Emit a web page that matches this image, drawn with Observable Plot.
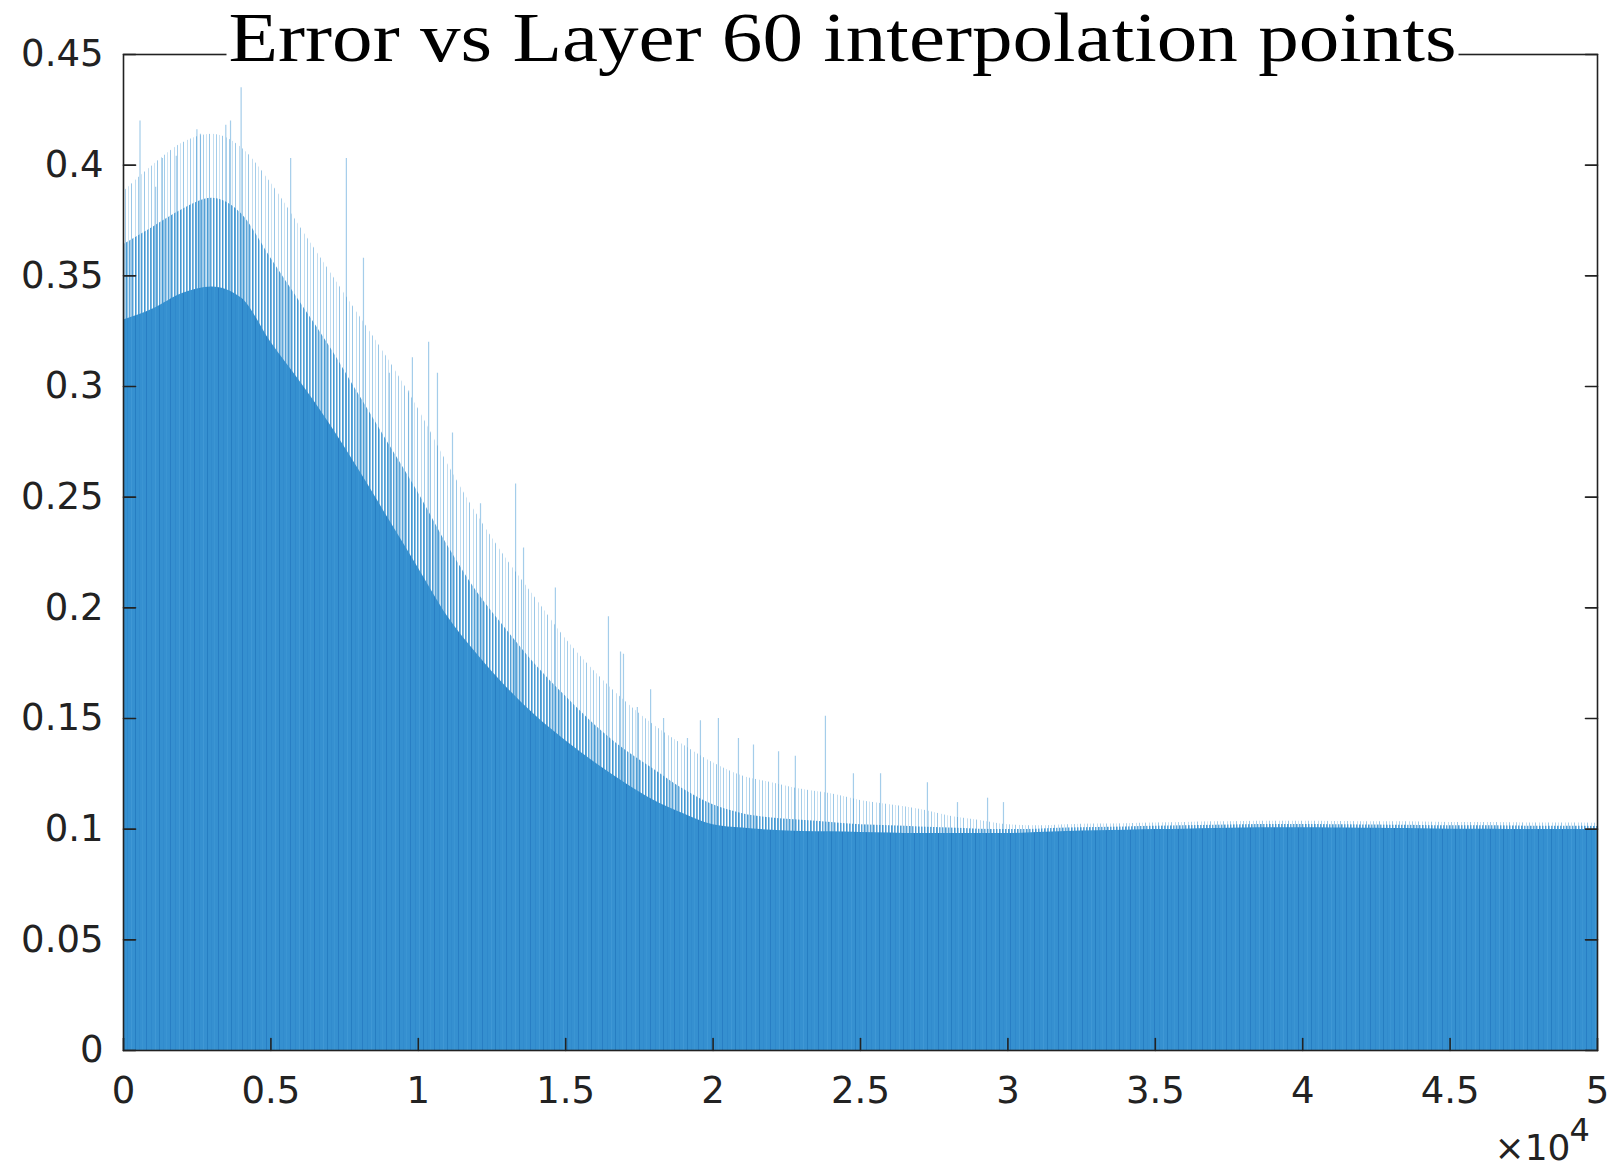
<!DOCTYPE html>
<html>
<head>
<meta charset="utf-8">
<script src="https://cdn.jsdelivr.net/npm/d3@7"></script>
<script src="https://cdn.jsdelivr.net/npm/@observablehq/plot@0.6"></script>
<style>
  html, body { margin: 0; padding: 0; background: #fff; }
</style>
</head>
<body>
<script>
// Layer index (sampled every 1000 of the 50000 layers)
const layers = [
  0, 1000, 2000, 3000, 4000, 5000, 6000, 7000, 8000, 9000,
  10000, 11000, 12000, 13000, 14000, 15000, 16000, 17000, 18000, 19000,
  20000, 21000, 22000, 23000, 24000, 25000, 26000, 27000, 28000, 29000,
  30000, 31000, 32000, 33000, 34000, 35000, 36000, 37000, 38000, 39000,
  40000, 41000, 42000, 43000, 44000, 45000, 46000, 47000, 48000, 49000, 50000
];

// Level reached by (nearly) every bar around each sampled layer
const errFloor = [
  0.330, 0.335, 0.342, 0.345, 0.340, 0.320, 0.302, 0.283, 0.262, 0.240,
  0.218, 0.196, 0.179, 0.164, 0.151, 0.140, 0.130, 0.121, 0.113, 0.107,
  0.102, 0.1005, 0.0995, 0.099, 0.0988, 0.0985, 0.0983, 0.098, 0.098, 0.098,
  0.098, 0.0985, 0.099, 0.0993, 0.0995, 0.0998, 0.1, 0.1003, 0.1005, 0.1006,
  0.1006, 0.1005, 0.1004, 0.1003, 0.1002, 0.1, 0.1, 0.0999, 0.0998, 0.0998, 0.0997
];

// Level reached by a dense share of the bars
const errDense = [
  0.364, 0.372, 0.380, 0.385, 0.378, 0.358, 0.338, 0.318, 0.296, 0.274,
  0.252, 0.228, 0.207, 0.190, 0.174, 0.160, 0.147, 0.136, 0.127, 0.118,
  0.111, 0.107, 0.105, 0.104, 0.103, 0.102, 0.1015, 0.101, 0.1005, 0.100,
  0.0998, 0.1, 0.1005, 0.1008, 0.101, 0.1013, 0.1015, 0.1018, 0.102, 0.1021,
  0.1021, 0.102, 0.1019, 0.1018, 0.1017, 0.1015, 0.1015, 0.1014, 0.1013, 0.1013, 0.1012
];

// Level reached by the sparse tallest bars
const errSparse = [
  0.388, 0.400, 0.410, 0.414, 0.408, 0.392, 0.372, 0.352, 0.332, 0.312,
  0.290, 0.265, 0.242, 0.222, 0.204, 0.186, 0.171, 0.158, 0.147, 0.138,
  0.130, 0.124, 0.121, 0.118, 0.116, 0.113, 0.111, 0.109, 0.106, 0.104,
  0.102, 0.1015, 0.102, 0.1023, 0.1025, 0.1028, 0.103, 0.1033, 0.1035, 0.1036,
  0.1036, 0.1035, 0.1034, 0.1033, 0.1032, 0.103, 0.103, 0.1029, 0.1028, 0.1028, 0.1027
];

// Individual tall bars standing out above the mass
const spikeLayer = [
  560, 1090, 1320, 1790, 2490, 2610, 3470, 3630, 3990, 5670,
  7560, 8140, 9020, 9670, 9800, 10350, 10650, 11160, 12110, 13300,
  13570, 14650, 16450, 16860, 16960, 17430, 17880, 18320, 19130, 19570,
  20180, 20860, 21370, 22220, 22790, 23810, 24760, 25680, 27270, 28290,
  29310, 29850
];
const spikeErr = [
  0.420, 0.390, 0.403, 0.404, 0.416, 0.414, 0.418, 0.420, 0.435, 0.403,
  0.403, 0.358, 0.306, 0.298, 0.313, 0.320, 0.306, 0.279, 0.247, 0.256,
  0.227, 0.209, 0.196, 0.180, 0.179, 0.155, 0.163, 0.150, 0.141, 0.149,
  0.150, 0.141, 0.138, 0.135, 0.133, 0.151, 0.125, 0.125, 0.121, 0.112,
  0.114, 0.112
];

const xTicks = [0, 5000, 10000, 15000, 20000, 25000, 30000, 35000, 40000, 45000, 50000];
const xTickLabels = ["0", "0.5", "1", "1.5", "2", "2.5", "3", "3.5", "4", "4.5", "5"];
const yTicks = [0, 0.05, 0.1, 0.15, 0.2, 0.25, 0.3, 0.35, 0.4, 0.45];
const yTickLabels = ["0", "0.05", "0.1", "0.15", "0.2", "0.25", "0.3", "0.35", "0.4", "0.45"];

const titleText = "Error vs Layer 60 interpolation points";

const levels = layers.map((layer, i) => ({
  layer, floor: errFloor[i], dense: errDense[i], sparse: errSparse[i]
}));
const spikes = spikeLayer.map((layer, i) => ({layer, err: spikeErr[i]}));

const ink = "#222222";
const barBlue = "#3590d0";
const tickShape = {draw(context, l) { context.moveTo(0, 0); context.lineTo(0, -l); }};
const tickStyle = {length: 12, anchor: "start", shape: tickShape, stroke: ink, strokeWidth: 1.6};

const chart = Plot.plot({
  width: 1619,
  height: 1169,
  marginLeft: 123,
  marginRight: 22,
  marginTop: 54,
  marginBottom: 119,
  style: {background: "#fff", fontFamily: "DejaVu Sans", color: ink},
  x: {domain: [0, 50000], axis: null},
  y: {domain: [0, 0.45], axis: null},
  marks: [
    Plot.areaY(levels, {x: "layer", y: "sparse", fill: "url(#fringe-sparse)", curve: "monotone-x"}),
    Plot.areaY(levels, {x: "layer", y: "dense", fill: "url(#fringe-dense)", curve: "monotone-x"}),
    Plot.ruleX(spikes, {x: "layer", y1: 0, y2: "err", stroke: barBlue, strokeOpacity: 0.45, strokeWidth: 1.2}),
    Plot.areaY(levels, {x: "layer", y: "floor", fill: "url(#bar-stripes)", curve: "monotone-x"}),
    Plot.frame({stroke: ink, strokeWidth: 1.6}),
    // inward ticks on the left, right and bottom edges
    Plot.vector(yTicks, {y: d => d, frameAnchor: "left", rotate: 90, ...tickStyle}),
    Plot.vector(yTicks, {y: d => d, frameAnchor: "right", rotate: -90, ...tickStyle}),
    Plot.vector(xTicks, {x: d => d, frameAnchor: "bottom", rotate: 0, ...tickStyle}),
    Plot.axisY(yTicks, {
      tickSize: 0, tickPadding: 20, label: null, fontSize: 37, fill: ink,
      tickFormat: d => yTickLabels[yTicks.indexOf(d)]
    }),
    Plot.axisX(xTicks, {
      tickSize: 0, tickPadding: 26, label: null, fontSize: 37, fill: ink,
      tickFormat: d => xTickLabels[xTicks.indexOf(d)]
    }),
    Plot.text(["×10"], {
      frameAnchor: "bottom-right", dx: -27, dy: 109, textAnchor: "end", lineAnchor: "bottom",
      fontSize: 36, fill: ink
    }),
    Plot.text(["4"], {
      frameAnchor: "bottom-right", dx: -28, dy: 68, textAnchor: "start", lineAnchor: "top",
      fontSize: 32, fill: ink
    }),
    Plot.text([titleText], {
      frameAnchor: "top", dx: -18, dy: 6, lineAnchor: "bottom",
      fontSize: 70, fontFamily: "Liberation Serif", fill: "#000"
    })
  ]
});

document.body.append(chart);

// Stripe patterns that give the dense bars their streaky look
const svg = d3.select(chart);
const defs = svg.insert("defs", ":first-child");
function stripes(id, width, base, lines) {
  const p = defs.append("pattern")
    .attr("id", id).attr("patternUnits", "userSpaceOnUse")
    .attr("width", width).attr("height", 8);
  if (base) p.append("rect").attr("width", width).attr("height", 8).attr("fill", base);
  for (const [x, w, c, o] of lines) {
    p.append("rect").attr("x", x).attr("width", w).attr("height", 8).attr("fill", c).attr("fill-opacity", o);
  }
}
stripes("bar-stripes", 24, barBlue, [
  [2, 1, "#2479c0", 0.8], [7, 1, "#2b84c9", 0.6], [11, 1, "#4a9fd9", 0.5],
  [15, 1, "#1f76bd", 0.7], [19, 1, "#2d86ca", 0.5], [22, 1, "#419ad6", 0.5]
]);
stripes("fringe-dense", 9, null, [
  [0, 1, barBlue, 0.9], [1, 1, barBlue, 0.55], [3, 1, barBlue, 0.8],
  [4, 1, barBlue, 0.45], [6, 1, barBlue, 0.85], [7, 1, barBlue, 0.4]
]);
stripes("fringe-sparse", 13, null, [
  [1, 1, barBlue, 0.5], [5, 1, barBlue, 0.3], [8, 1, barBlue, 0.45], [11, 1, barBlue, 0.25]
]);

// Title: stretched to its set width, on a white box that breaks the top edge
const titleNode = svg.selectAll("text").filter(function() { return this.textContent === titleText; }).node();
if (titleNode) {
  const title = d3.select(titleNode);
  title.attr("textLength", 1228).attr("lengthAdjust", "spacingAndGlyphs");
  const bb = titleNode.getBBox();
  d3.select(titleNode.parentNode)
    .insert("rect", () => titleNode)
    .attr("transform", title.attr("transform"))
    .attr("x", bb.x - 2).attr("y", bb.y).attr("width", bb.width + 4).attr("height", bb.height)
    .attr("fill", "#fff");
}
</script>
</body>
</html>
